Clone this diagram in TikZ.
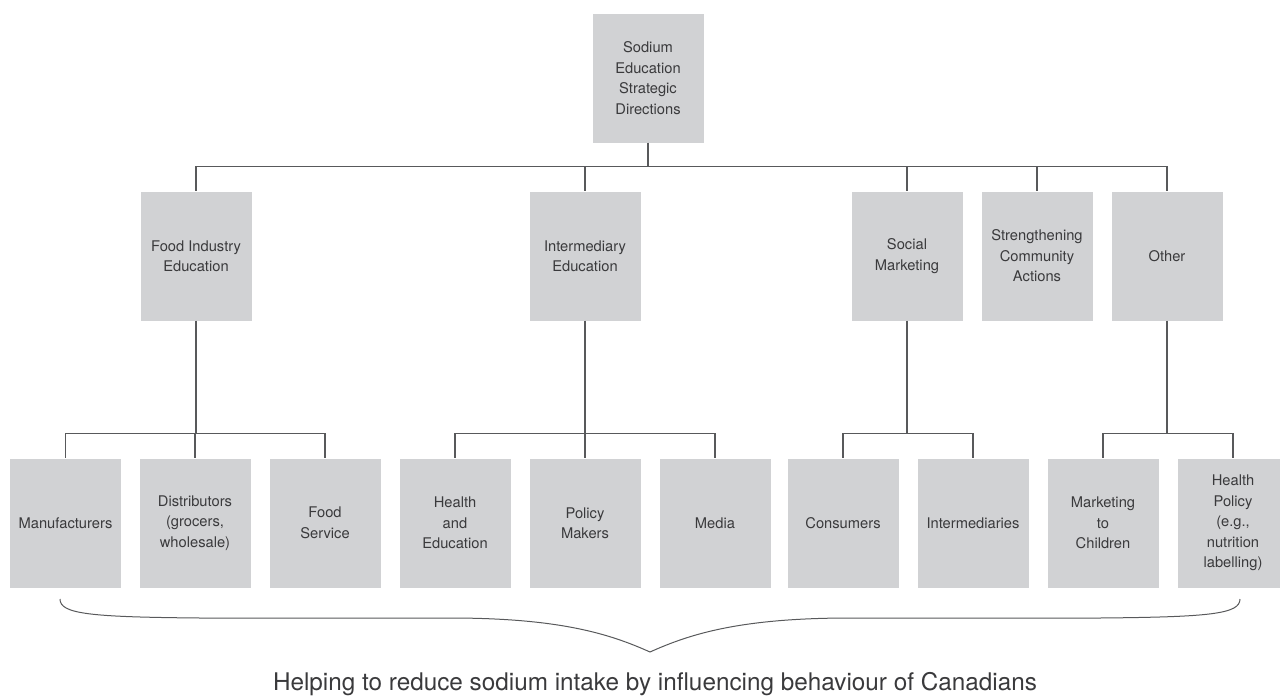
\documentclass[tikz,border=0pt]{standalone}
\usepackage{fontspec}
\setmainfont{TeX Gyre Heros}
\definecolor{boxgray}{HTML}{D1D2D4}
\definecolor{linegray}{HTML}{58595B}
\definecolor{textgray}{HTML}{3A3A3C}

\begin{document}
\begin{tikzpicture}[x=1pt,y=-1pt,
    box/.style={fill=boxgray, minimum width=111pt, minimum height=129pt,
        inner sep=0pt, align=center, text=textgray,
        font=\fontsize{14.7}{20.5}\selectfont},
    link/.style={draw=linegray, line width=1.3pt}]
    \useasboundingbox (0,0) rectangle (1280,699);

    \node[box] (top) at (648,78) {Sodium\\Education\\Strategic\\Directions};

    \node[box] (food)   at (196,256)  {Food Industry\\Education};
    \node[box] (inter)  at (585,256)  {Intermediary\\Education};
    \node[box] (social) at (907,256)  {Social\\Marketing};
    \node[box] (comm)   at (1037,256) {Strengthening\\Community\\Actions};
    \node[box] (other)  at (1167,256) {Other};

    \node[box] (manu)   at (65.5,523) {Manufacturers};
    \node[box] (dist)   at (195,523)  {Distributors\\(grocers,\\wholesale)};
    \node[box] (fserv)  at (325,523)  {Food\\Service};
    \node[box] (health) at (455,523)  {Health\\and\\Education};
    \node[box] (policy) at (585,523)  {Policy\\Makers};
    \node[box] (media)  at (715,523)  {Media};
    \node[box] (cons)   at (843,523)  {Consumers};
    \node[box] (interm) at (973,523)  {Intermediaries};
    \node[box] (mkt)    at (1103,523) {Marketing\\to\\Children};
    \node[box] (hpol)   at (1233,523) {Health\\Policy\\(e.g.,\\nutrition\\labelling)};

    % top level
    \draw[link] (top.south) -- ++(0,24) coordinate (t1);
    \foreach \c in {food,inter,social,comm,other}
        \draw[link] (t1) -| (\c.north);

    % second level
    \foreach \p/\kids in {food/{manu,dist,fserv}, inter/{health,policy,media},
                          social/{cons,interm}, other/{mkt,hpol}} {
        \draw[link] (\p.south) -- ++(0,112.5) coordinate (j);
        \foreach \k in \kids
            \draw[link] (j) -| (\k.north);
    }

    % brace
    \coordinate (bl) at (60,599);
    \coordinate (br) at (1240,599);
    \coordinate (tip) at (650,652);
    \draw[link, line width=1pt] (bl) .. controls (60,614) and (90,617) .. (200,618)
        -- (450,618) .. controls (560,618) and (610,634) .. (tip)
        .. controls (690,634) and (740,618) .. (850,618)
        -- (1100,618) .. controls (1210,617) and (1240,614) .. (br);

    \node[text=textgray, font=\fontsize{24.3}{28}\selectfont, anchor=base] (goal) at (655,690)
        {Helping to reduce sodium intake by influencing behaviour of Canadians};
\end{tikzpicture}
\end{document}
